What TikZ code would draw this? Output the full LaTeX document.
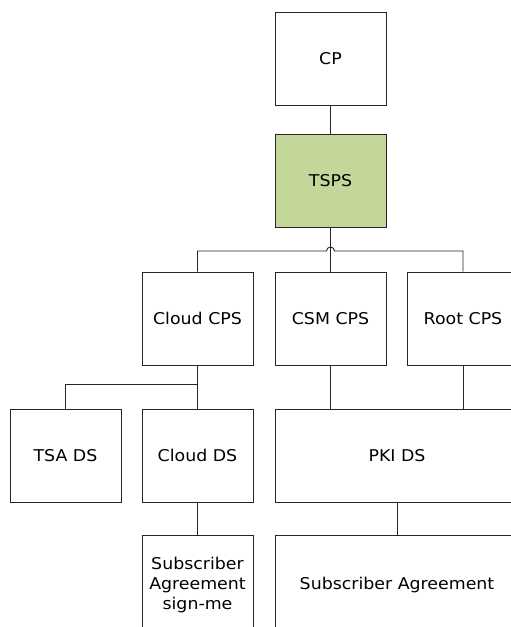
\documentclass[tikz,border=0pt]{standalone}
\usepackage{fontspec}
\setmainfont[FakeStretch=1.07]{DejaVu Sans}
\usepackage{tikz}
\usetikzlibrary{shapes}
\definecolor{tspsgreen}{RGB}{196,215,155}

\begin{document}
\begin{tikzpicture}[box/.style={draw=black!85,line width=0.9bp,minimum width=111bp,minimum height=93bp,inner sep=0pt,font=\fontsize{16.3}{20}\selectfont},
link/.style={draw=black!85,line width=0.9bp}]
\useasboundingbox (0bp,0bp) rectangle (511bp,-627bp);
\clip (0bp,0bp) rectangle (511bp,-627bp);
\node (CP) at (330.5bp,-58.5bp)[box] {CP};
\node (TSPS) at (330.5bp,-180.5bp)[box,fill=tspsgreen] {TSPS};
\node (CCPS) at (197.5bp,-318.5bp)[box] {Cloud CPS};
\node (SCPS) at (330.5bp,-318.5bp)[box] {CSM CPS};
\node (RCPS) at (463bp,-318.5bp)[box] {Root CPS};
\node (TSA) at (65.5bp,-455.5bp)[box] {TSA DS};
\node (CDS) at (197.5bp,-455.5bp)[box] {Cloud DS};
\node (PKI) at (397bp,-455.5bp)[box,minimum width=244bp] {PKI DS};
\node (SAS) at (197.5bp,-585bp)[box,minimum height=100bp,align=center] {Subscriber\\Agreement\\sign-me};
\node (SA) at (397bp,-585bp)[box,minimum width=244bp,minimum height=100bp] {Subscriber Agreement};
\coordinate (bus) at (330.5bp,-251bp);
\coordinate (bus2) at (197.5bp,-384bp);
\draw [link] (CP) -- (TSPS);
\draw [link] (TSPS) -- (SCPS);
\draw [link] (CCPS.north) |- ([xshift=-4bp]bus) arc[start angle=180,end angle=0,radius=4bp] -| (RCPS.north);
\draw [link] (CCPS) -- (CDS);
\draw [link] (TSA.north) |- (bus2);
\draw [link] (SCPS) -- (SCPS |- PKI.north);
\draw [link] (RCPS) -- (RCPS |- PKI.north);
\draw [link] (CDS) -- (SAS);
\draw [link] (PKI) -- (SA);
\end{tikzpicture}
\end{document}
